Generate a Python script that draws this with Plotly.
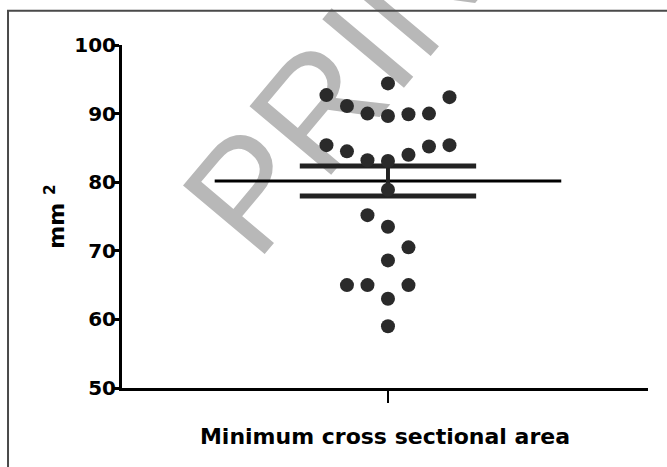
import numpy as np
import plotly.graph_objects as go

# Data: minimum cross sectional area (mm^2) and column (scatter) offsets
values = [94.4, 92.7, 91.1, 90.0, 89.65, 89.9, 90.0, 92.4,
          85.4, 84.5, 83.2, 83.1, 84.0, 85.2, 85.4,
          78.9, 75.2, 73.5, 70.5, 68.6, 65.0, 65.0, 65.0, 63.0, 59.0]
columns = [0, -3, -2, -1, 0, 1, 2, 3,
           -3, -2, -1, 0, 1, 2, 3,
           0, -1, 0, 1, 0, -2, -1, 1, 0, 0]
category = "Minimum cross sectional area"
y_ticks = [50, 60, 70, 80, 90, 100]

vals = np.array(values)
mean = vals.mean()
sem = vals.std(ddof=1) / np.sqrt(len(vals))

FONT = "DejaVu Sans, sans-serif"
WM_FONT = "Liberation Sans, Arial, sans-serif"

fig = go.Figure()

# mean line
fig.add_trace(go.Scatter(x=[-8.45, 8.45], y=[mean, mean], mode="lines",
                         line=dict(color="black", width=3), hoverinfo="skip"))
# SEM caps
for v in (mean + sem, mean - sem):
    fig.add_trace(go.Scatter(x=[-4.3, 4.3], y=[v, v], mode="lines",
                             line=dict(color="#222222", width=5), hoverinfo="skip"))
# SEM vertical
fig.add_trace(go.Scatter(x=[0, 0], y=[mean - sem, mean + sem], mode="lines",
                         line=dict(color="#222222", width=4), hoverinfo="skip"))
# points
fig.add_trace(go.Scatter(x=columns, y=values, mode="markers",
                         marker=dict(color="#2a2a2a", size=14, line=dict(width=0)),
                         hoverinfo="skip"))

fig.update_layout(
    width=667, height=467,
    margin=dict(l=122, r=19, t=45, b=79),
    paper_bgcolor="white", plot_bgcolor="white",
    showlegend=False,
    font=dict(family=FONT, color="black"),
    xaxis=dict(range=[-12.97, 12.68], showgrid=False, zeroline=False,
               showline=True, linecolor="black", linewidth=3,
               tickmode="array", tickvals=[0], ticktext=[""],
               ticks="outside", ticklen=12, tickwidth=2, tickcolor="black",
               title=dict(text="<b>" + category + "</b>",
                          font=dict(size=22, family=FONT), standoff=25)),
    yaxis=dict(range=[50, 100], showgrid=False, zeroline=False,
               showline=True, linecolor="black", linewidth=3,
               tickmode="array", tickvals=y_ticks,
               ticktext=["<b>%d</b>" % t for t in y_ticks],
               tickfont=dict(size=20, family=FONT),
               ticks="outside", ticklen=6, tickwidth=3, tickcolor="black",
               ticklabelstandoff=-7,
               title=dict(text="<b>mm <sup>2</sup></b>",
                          font=dict(size=22, family=FONT), standoff=4)),
)

# watermark (below traces) and page border
fig.add_shape(type="rect", xref="paper", yref="paper",
              x0=0.34, x1=0.54, y0=0.91, y1=1.11, layer="below",
              line=dict(width=0), fillcolor="rgba(0,0,0,0)",
              label=dict(text="PRINT", textangle=-50, textposition="middle center",
                         font=dict(size=155, color="#b8b8b8", family=WM_FONT)))
fig.add_shape(type="path", xref="paper", yref="paper",
              path="M -0.2167,-0.24 L -0.2167,1.1 L 1.04,1.1",
              line=dict(color="#4a4a4a", width=2))

fig.write_html("out.html", config={"displayModeBar": False},
               post_script="document.body.style.margin='0px';")
